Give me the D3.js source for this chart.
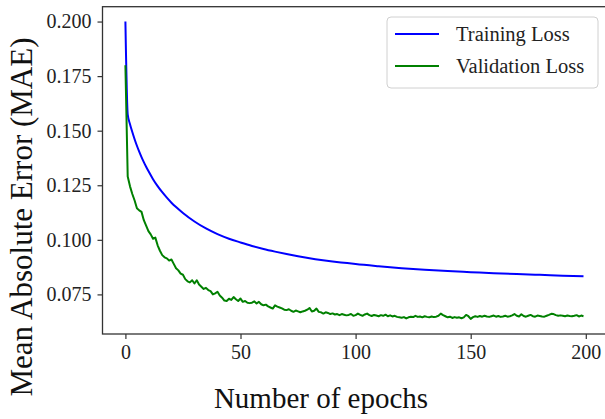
<!DOCTYPE html>
<html><head><meta charset="utf-8">
<script src="https://cdn.jsdelivr.net/npm/d3@7"></script>
<style>html,body{margin:0;padding:0;background:#fff;overflow:hidden}</style>
</head><body>
<svg id="chart" width="605" height="419"></svg>
<script>
const trainEpochs = [0,1,2,3,4,5,6,7,8,9,10,12,14,16,18,20,22,25,30,35,40,45,50,55,60,65,70,75,80,85,90,95,100,110,120,130,140,150,160,170,180,190,199];
const trainLoss = [0.200,0.1575,0.1530,0.1494,0.1461,0.1431,0.1404,0.1379,0.1356,0.1335,0.1315,0.1278,0.1246,0.1218,0.1193,0.1170,0.1150,0.1123,0.1084,0.1052,0.1026,0.1005,0.0988,0.0972,0.0958,0.0946,0.0935,0.0925,0.0916,0.0908,0.0901,0.0895,0.0889,0.0879,0.0870,0.0863,0.0857,0.0852,0.0847,0.0843,0.08395,0.0836,0.0833];
const valLoss = [
0.180,0.129,0.1245,0.121,0.118,0.1145,0.1135,0.1128,0.109,0.1065,
0.104,0.1025,0.1005,0.1010,0.0975,0.0950,0.0930,0.0920,0.0915,0.0905,
0.0910,0.0890,0.0870,0.0860,0.0845,0.0840,0.0820,0.0810,0.0805,0.0815,
0.0800,0.0815,0.0795,0.0785,0.0775,0.0780,0.0770,0.0765,0.0750,0.0755,
0.0762,0.0745,0.0735,0.0722,0.0720,0.0730,0.0725,0.0738,0.0728,0.0720,
0.0731,0.0716,0.0720,0.0712,0.0710,0.0712,0.0718,0.0708,0.0716,0.0705,
0.0700,0.0703,0.0695,0.0690,0.0685,0.0700,0.0694,0.0690,0.0686,0.0680,
0.0678,0.0682,0.0675,0.0670,0.0676,0.0672,0.0668,0.0672,0.0675,0.0680,
0.0688,0.0672,0.0675,0.0685,0.0670,0.0668,0.0662,0.0668,0.0665,0.0660,
0.0663,0.0658,0.0660,0.0655,0.0660,0.0657,0.0654,0.0656,0.0660,0.0652,
0.0655,0.0662,0.0656,0.0652,0.0658,0.0662,0.0655,0.0651,0.0656,0.0653,
0.0650,0.0655,0.0652,0.0657,0.0650,0.0654,0.0649,0.0652,0.0647,0.0645,
0.0643,0.0646,0.0640,0.0645,0.0648,0.0646,0.0652,0.0647,0.0649,0.0645,
0.0650,0.0647,0.0645,0.0649,0.0646,0.0648,0.0652,0.0662,0.0655,0.0650,
0.0645,0.0648,0.0642,0.0646,0.0643,0.0645,0.0641,0.0645,0.0656,0.0650,
0.0638,0.0646,0.0650,0.0647,0.0651,0.0648,0.0652,0.0649,0.0647,0.0650,
0.0653,0.0648,0.0651,0.0647,0.0649,0.0652,0.0648,0.0650,0.0654,0.0660,
0.0652,0.0649,0.0659,0.0651,0.0648,0.0652,0.0656,0.0650,0.0648,0.0653,
0.0651,0.0649,0.0648,0.0652,0.0656,0.0661,0.0660,0.0655,0.0652,0.0654,
0.0652,0.0650,0.0653,0.0651,0.0650,0.0652,0.0655,0.0649,0.0653,0.0650];
const xTicks = [0,50,100,150,200];
const yTicks = [0.075,0.100,0.125,0.150,0.175,0.200];
const seriesNames = ["Training Loss","Validation Loss"];
const seriesColors = ["#0000ff","#008000"];
const xLabel = "Number of epochs";
const yLabel = "Mean Absolute Error (MAE)";

const svg = d3.select("#chart");
const font = "'Liberation Serif','Times New Roman',serif";
const x = d3.scaleLinear().domain([-9.95, 208.95]).range([102.5, 606.4]);
const y = d3.scaleLinear().domain([0.05686, 0.2068]).range([334, 6.7]);

const train = trainEpochs.map((e,i)=>({e, v: trainLoss[i]}));
const val = valLoss.map((v,i)=>({e:i, v}));

svg.append("path").datum(train)
  .attr("d", d3.line().x(d=>x(d.e)).y(d=>y(d.v)).curve(d3.curveMonotoneX))
  .attr("fill","none").attr("stroke",seriesColors[0]).attr("stroke-width",2);
svg.append("path").datum(val).attr("d", d3.line().x(d=>x(d.e)).y(d=>y(d.v)))
  .attr("fill","none").attr("stroke",seriesColors[1]).attr("stroke-width",2).attr("stroke-linejoin","round");

// axes
const xAxis = svg.append("g").attr("transform","translate(0,334)")
  .call(d3.axisBottom(x).tickValues(xTicks).tickFormat(d3.format("d")).tickSize(5).tickPadding(6));
const yAxis = svg.append("g").attr("transform","translate(102.5,0)")
  .call(d3.axisLeft(y).tickValues(yTicks).tickFormat(d3.format(".3f")).tickSize(5).tickPadding(6));
[xAxis,yAxis].forEach(g=>{
  g.select(".domain").remove();
  g.selectAll(".tick line").attr("stroke","#333").attr("stroke-width",1.2);
  g.selectAll(".tick text").attr("font-family",font).attr("font-size",20).attr("fill","#222");
});
// spines
svg.append("rect").attr("x",102.5).attr("y",6.7).attr("width",606.4-102.5).attr("height",334-6.7)
  .attr("fill","none").attr("stroke","#333").attr("stroke-width",1.3);

// labels
svg.append("text").attr("x",321).attr("y",408).attr("text-anchor","middle")
  .attr("font-family",font).attr("font-size",29).attr("fill","#111").text(xLabel);
svg.append("text").attr("transform","translate(32,217) rotate(-90)").attr("text-anchor","middle")
  .attr("font-family",font).attr("font-size",31).attr("fill","#111").text(yLabel);

// legend
const lg = svg.append("g");
lg.append("rect").attr("x",387).attr("y",17).attr("width",211).attr("height",71).attr("rx",4)
  .attr("fill","#fff").attr("fill-opacity",0.8).attr("stroke","#d0d0d0").attr("stroke-width",1);
seriesNames.forEach((n,i)=>{
  const yy = 34 + i*32;
  lg.append("line").attr("x1",395).attr("x2",439).attr("y1",yy).attr("y2",yy)
    .attr("stroke",seriesColors[i]).attr("stroke-width",2);
  lg.append("text").attr("x",456).attr("y",yy+7).attr("font-family",font).attr("font-size",20.5)
    .attr("fill","#222").text(n);
});
</script>
</body></html>
